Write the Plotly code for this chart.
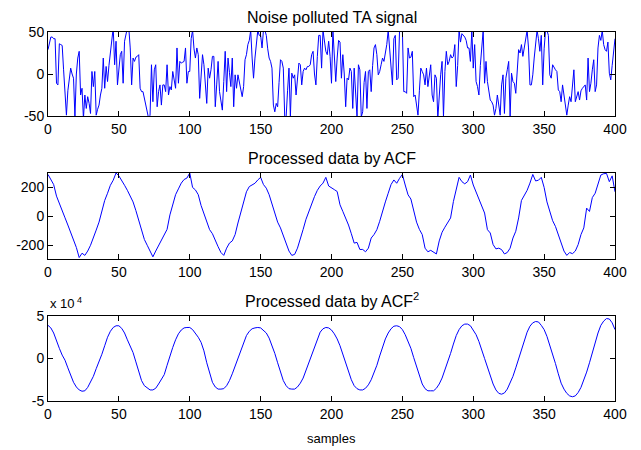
import plotly.graph_objects as go

# sample indices
samples_ta = list(range(0, 401))
samples = list(range(0, 401, 2))

noisy_ta = [
    29, 38, 44, 44, 42, 42, -11, -13, 36, 35, 34, 5, -25, -49, -20, -5, 7, 0, -5, -51,
    0, 19, 27, -25, -17, -53, -25, -41, -27, -35, -47, 3, -15, 3, -49, -42, -37, -25, -17, 19,
    -17, 9, -9, 10, 23, 35, 55, 11, 39, -13, 5, 23, 27, -11, 39, 52, 55, 55, 31, -13,
    19, 15, 20, 21, 23, -17, -21, -21, -30, -37, -49, -53, -49, 11, -33, 5, 11, -39, -21, -13,
    -37, -13, -13, -21, 11, -25, -15, -19, 3, -5, -17, 31, -11, 15, 13, 14, 15, 31, -11, 3,
    3, 42, 52, 30, 19, 31, 23, -29, 5, 23, 11, -13, -35, 7, -5, 5, 21, 21, -39, -13,
    15, -21, -30, -43, -9, 27, -21, 19, 2, -15, 19, -39, -1, -17, -1, -10, -17, -27, -15, 17,
    23, 35, 40, 52, 19, -5, 19, 35, 52, 46, 46, 31, 52, 52, 46, 30, 19, 15, 7, -37,
    -45, -35, -39, -10, 17, 15, 7, -51, -51, -20, 7, -51, 1, -5, -1, -25, -5, 13, 11, -13,
    3, 7, 5, 9, 9, 11, 23, 27, 0, -13, 21, 46, 46, 7, 52, 40, 27, 23, 39, 21,
    -11, 52, 20, -9, 19, 40, 38, -5, 23, 0, -39, -5, -7, 7, 3, -41, 7, -20, -51, 11,
    5, -51, -45, -10, 3, -41, 3, 5, -21, 10, 31, 35, 23, -1, 3, 11, 19, 15, 25, 35,
    52, 27, 10, -13, 42, 46, -7, -5, 52, 52, 52, -21, -21, -23, 31, 19, 20, 27, -27, -25,
    -41, -49, -20, 7, 3, -1, -13, 7, -15, 0, 11, -25, -33, -1, -5, -53, -20, -1, 15, -51,
    3, 27, 11, 15, 23, 19, 21, 35, -15, 10, 52, 38, 48, 46, 44, 40, 31, 31, 15, 52,
    7, 35, -9, -15, -25, 10, 38, 52, -11, 15, -9, -20, -31, -33, -37, -49, -41, -25, -35, -49,
    -13, -1, -47, -5, 5, 15, -51, 1, -9, -11, -23, 10, 29, 25, 35, 21, 31, 40, 52, 31,
    -13, -13, -1, 19, 40, 52, 42, 27, 46, -13, 30, 52, 52, 46, -1, -5, 11, 7, 5, 3,
    -19, -21, -33, -13, -25, -37, -49, -37, -27, -33, -10, 5, -33, -25, -21, -31, -20, -17, -15, -13,
    -31, 19, -21, -11, 5, 17, -21, -13, 31, 46, 40, 52, 35, 29, 27, 38, 1, -7, 10, 27,
    42,
]

acf_data = [
    290, 250, 220, 140, 85, 40, -10, -60, -110, -170, -215, -285, -255, -270, -240, -200, -140, -95, -40, 30,
    110, 160, 215, 250, 300, 280, 250, 215, 180, 140, 100, 40, -30, -100, -160, -200, -240, -280, -240, -200,
    -160, -130, -90, 10, 80, 150, 190, 230, 255, 265, 300,
    200, 183, 150, 75, 20, -50, -92, -120, -170, -210, -250, -270, -220, -185, -170, -126, -46, 20, 100, 170,
    206, 215, 229, 252, 270, 220, 195, 150, 90, 20, -40, -80, -137, -195, -240, -270, -263, -220, -160, -90,
    -20, 34, 92, 137, 180, 210, 230, 270, 210, 200,
    185, 172, 80, 34, -10, -60, -120, -185, -180, -229, -229, -245, -220, -150, -126, -92, -34, 40, 100, 160,
    220, 252, 229, 263, 290, 217, 149, 120, 40, -40, -90, -126, -220, -245, -235, -250, -260, -170, -110, -75,
    -40, -11, 103, 195, 270, 240, 225, 240, 286, 217,
    170, 115, 69, 23, -92, -115, -195, -225, -220, -230, -260, -250, -220, -150, -103, -11, 110, 145, 180, 230,
    290, 245, 250, 270, 200, 100, 30, -30, -70, -126, -183, -240, -270, -250, -258, -240, -195, -126, -80, 57,
    34, 130, 160, 217, 286, 295, 297, 240, 280, 170,
]

acf2_data = [
    3.9, 3.6, 3.0, 2.0, 1.2, 0.4, -0.2, -1.1, -2.0, -2.8, -3.35, -3.7, -3.85, -3.8, -3.4, -2.8, -2.1, -1.2, -0.4, 0.5,
    1.5, 2.5, 3.2, 3.65, 3.85, 3.85, 3.55, 3.0, 2.2, 1.45, 0.7, -0.4, -1.6, -2.6, -3.2, -3.5, -3.7, -3.7, -3.5, -3.0,
    -2.4, -1.9, -0.8, 0.4, 1.3, 2.2, 2.9, 3.35, 3.6, 3.65, 3.65,
    3.4, 3.0, 2.5, 1.9, 0.9, -0.5, -1.8, -2.8, -3.35, -3.6, -3.6, -3.55, -3.2, -2.6, -1.8, -0.9, 0.0, 0.9, 1.9, 2.7,
    3.2, 3.5, 3.6, 3.65, 3.6, 3.3, 3.0, 2.4, 1.6, 0.6, -0.5, -1.6, -2.6, -3.2, -3.55, -3.6, -3.6, -3.35, -2.9, -2.3,
    -1.4, -0.5, 0.4, 1.4, 2.4, 3.1, 3.5, 3.65, 3.6, 3.35,
    2.9, 2.3, 1.5, 0.5, -0.5, -1.5, -2.5, -3.2, -3.55, -3.7, -3.7, -3.5, -3.1, -2.5, -1.7, -0.8, 0.3, 1.3, 2.3, 3.0,
    3.5, 3.8, 3.85, 3.75, 3.4, 2.8, 2.1, 1.2, 0.1, -1.0, -2.1, -3.0, -3.55, -3.8, -3.8, -3.8, -3.5, -3.0, -2.3, -1.4,
    -0.4, 0.6, 1.7, 2.7, 3.4, 3.85, 4.05, 4.05, 3.85, 3.4,
    2.8, 2.0, 1.1, 0.0, -1.0, -2.1, -3.0, -3.7, -4.1, -4.2, -4.05, -3.6, -2.9, -2.1, -1.1, 0.0, 1.0, 2.1, 3.1, 3.8,
    4.2, 4.35, 4.3, 3.9, 3.4, 2.6, 1.6, 0.5, -0.6, -1.8, -2.9, -3.6, -4.1, -4.4, -4.5, -4.4, -4.0, -3.4, -2.6, -1.6,
    -0.5, 0.7, 1.9, 3.0, 3.9, 4.4, 4.7, 4.65, 4.2, 3.4,
]

titles = ["Noise polluted TA signal", "Processed data by ACF", "Processed data by ACF<sup>2</sup>"]
x_ticks = [0, 50, 100, 150, 200, 250, 300, 350, 400]
y1_ticks = [-50, 0, 50]
y2_ticks = [-200, 0, 200]
y3_ticks = [-5, 0, 5]

W, H = 641, 450
xdom = [48 / W, 615 / W]
ydoms = [
    [1 - 116 / H, 1 - 32 / H],
    [1 - 259 / H, 1 - 173 / H],
    [1 - 401 / H, 1 - 316 / H],
]

fig = go.Figure()
series = [(samples_ta, noisy_ta), (samples, acf_data), (samples, acf2_data)]
for i, (xs, ys) in enumerate(series):
    sfx = "" if i == 0 else str(i + 1)
    fig.add_trace(go.Scatter(
        x=xs, y=ys, mode="lines",
        line=dict(color="#0000ff", width=1),
        xaxis="x" + sfx, yaxis="y" + sfx, showlegend=False, hoverinfo="skip",
    ))

font_tick = dict(family="Liberation Sans, Arial, sans-serif", size=14, color="black")
axis_common = dict(
    showline=True, linecolor="black", linewidth=1, mirror="ticks",
    ticks="inside", ticklen=5, tickcolor="black", tickwidth=1,
    showgrid=False, zeroline=False, tickfont=font_tick, automargin=False,
)

layout = dict(
    width=W, height=H, margin=dict(l=0, r=0, t=0, b=0, pad=0),
    paper_bgcolor="white", plot_bgcolor="white",
    font=dict(family="Liberation Sans, Arial, sans-serif", color="black"),
)
yranges = [[-50, 50], [-295, 300], [-5, 5]]
yticks = [y1_ticks, y2_ticks, y3_ticks]
for i in range(3):
    sfx = "" if i == 0 else str(i + 1)
    layout["xaxis" + sfx] = dict(
        axis_common, domain=xdom, range=[0, 400], tickvals=x_ticks,
        ticktext=[str(v) for v in x_ticks], anchor="y" + sfx,
    )
    layout["yaxis" + sfx] = dict(
        axis_common, domain=ydoms[i], range=yranges[i], tickvals=yticks[i],
        ticktext=[str(v) for v in yticks[i]], anchor="x" + sfx,
    )

fig.update_layout(**layout)

xc = (xdom[0] + xdom[1]) / 2
title_y = [17, 158, 300]
for t, yp in zip(titles, title_y):
    fig.add_annotation(
        text=t, x=xc, y=1 - yp / H, xref="paper", yref="paper",
        showarrow=False, font=dict(size=16, color="black"),
        xanchor="center", yanchor="middle",
    )

fig.add_annotation(
    text="x 10<sup> 4</sup>", x=48 / W, y=1 - 303 / H, xref="paper", yref="paper",
    showarrow=False, font=dict(size=13, color="black"), xanchor="left", yanchor="middle",
)
fig.add_annotation(
    text="samples", x=xc, y=1 - 438 / H, xref="paper", yref="paper",
    showarrow=False, font=dict(size=13, color="black"), xanchor="center", yanchor="middle",
)

fig.write_html(
    "out.html",
    config={"displayModeBar": False},
    post_script="document.body.style.margin='0';document.body.style.overflow='hidden';",
)
